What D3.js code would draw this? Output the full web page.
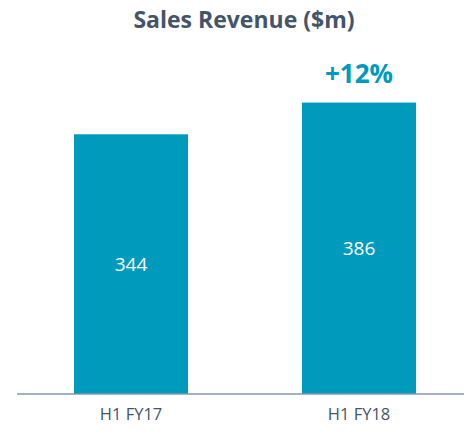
<!DOCTYPE html>
<html>
<head>
<meta charset="utf-8">
<script src="https://cdn.jsdelivr.net/npm/d3@7"></script>
<style>
  body { margin: 0; background: #fff; }
  svg { display: block; font-family: "Open Sans", "Noto Sans", sans-serif; }
</style>
</head>
<body>
<svg width="464" height="433"></svg>
<script>
var categories = ['H1 FY17', 'H1 FY18'];
var revenue = [344, 386];
var growthLabel = '+12%';
var chartTitle = 'Sales Revenue ($m)';

var teal = '#009abd';
var slate = '#44546a';

var svg = d3.select('svg');

var x = d3.scaleBand()
    .domain(categories)
    .range([17, 473])
    .paddingInner(0.5)
    .paddingOuter(0.25);

var y = d3.scaleLinear()
    .domain([0, 400])
    .range([394, 92]);

// title
svg.append('text')
    .attr('x', 244)
    .attr('y', 28)
    .attr('text-anchor', 'middle')
    .attr('font-size', 23)
    .attr('font-weight', 'bold')
    .attr('fill', slate)
    .text(chartTitle);

// bars
svg.selectAll('rect.bar')
    .data(revenue)
    .enter()
    .append('rect')
    .attr('class', 'bar')
    .attr('x', function(d, i) { return x(categories[i]); })
    .attr('y', function(d) { return y(d); })
    .attr('width', x.bandwidth())
    .attr('height', function(d) { return y(0) - y(d); })
    .attr('fill', teal);

// value labels, centred in each bar
svg.selectAll('text.value')
    .data(revenue)
    .enter()
    .append('text')
    .attr('class', 'value')
    .attr('x', function(d, i) { return x(categories[i]) + x.bandwidth() / 2; })
    .attr('y', function(d) { return (y(d) + y(0)) / 2 + 7; })
    .attr('text-anchor', 'middle')
    .attr('font-size', 19)
    .attr('fill', '#fff')
    .text(function(d) { return d; });

// growth label above the second bar
svg.append('text')
    .attr('x', x(categories[1]) + x.bandwidth() / 2)
    .attr('y', y(revenue[1]) - 20)
    .attr('text-anchor', 'middle')
    .attr('font-size', 26)
    .attr('font-weight', 'bold')
    .attr('fill', teal)
    .text(growthLabel);

// x axis
var xAxis = svg.append('g')
    .attr('transform', 'translate(0,' + y(0) + ')')
    .call(d3.axisBottom(x).tickSize(0).tickPadding(14));

xAxis.select('.domain')
    .attr('d', 'M17,0H464')
    .attr('stroke', '#8497b0')
    .attr('stroke-width', 1.5);

xAxis.selectAll('text')
    .attr('font-family', '"Open Sans", sans-serif')
    .attr('font-size', 16.5)
    .attr('fill', slate);
</script>
</body>
</html>
